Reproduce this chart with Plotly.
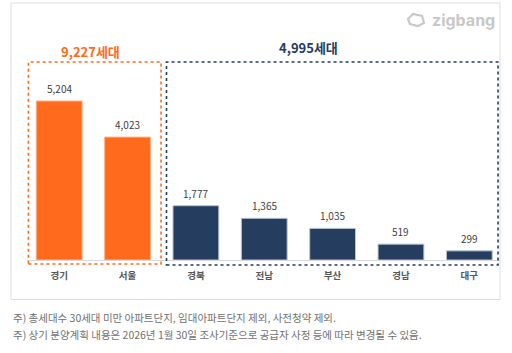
import plotly.graph_objects as go

categories = ["경기", "서울", "경북", "전남", "부산", "경남", "대구"]
values = [5204, 4023, 1777, 1365, 1035, 519, 299]
value_labels = ["5,204", "4,023", "1,777", "1,365", "1,035", "519", "299"]
bar_colors = ["#FF6A1C", "#FF6A1C", "#253D5F", "#253D5F", "#253D5F", "#253D5F", "#253D5F"]
edge_colors = ["#FFB080", "#FFB080", "#B8C4D4", "#B8C4D4", "#B8C4D4", "#B8C4D4", "#B8C4D4"]
group_titles = ["9,227세대", "4,995세대"]
footnotes = [
    "주) 총세대수 30세대 미만 아파트단지, 임대아파트단지 제외, 사전청약 제외.",
    "주) 상기 분양계획 내용은 2026년 1월 30일 조사기준으로 공급자 사정 등에 따라 변경될 수 있음.",
]

W, H = 512, 353
FONT = "Noto Sans CJK KR"
ORANGE = "#FF6A1C"
NAVY = "#253D5F"


def px(x):
    return x / W


def py(y):
    return 1 - y / H


fig = go.Figure()
fig.add_trace(go.Bar(
    x=categories, y=values, width=0.67,
    marker=dict(color=bar_colors, line=dict(color=edge_colors, width=1)),
    hoverinfo="skip",
))

# value labels
for c, v, t in zip(categories, values, value_labels):
    fig.add_annotation(x=c, y=v, text=t, showarrow=False, yanchor="bottom", yshift=3,
                       font=dict(size=10, color="#404040", family=FONT))

shapes = []
# outer panel
shapes.append(dict(type="rect", xref="paper", yref="paper", x0=px(11), x1=px(500), y0=py(299.5), y1=py(3),
                   line=dict(color="#DDDDDD", width=1), fillcolor="white", layer="below"))
# baseline
shapes.append(dict(type="line", xref="paper", yref="paper", x0=px(27), x1=px(500), y0=py(260.5), y1=py(260.5),
                   line=dict(color="#D9D9D9", width=1)))
# group boxes
shapes.append(dict(type="rect", xref="x", yref="paper", x0=-0.45, x1=1.49, y0=py(264), y1=py(62),
                   line=dict(color=ORANGE, width=1.6, dash="dot")))
shapes.append(dict(type="rect", xref="x", yref="paper", x0=1.57, x1=6.42, y0=py(265), y1=py(62),
                   line=dict(color=NAVY, width=1.6, dash="dot")))
# logo icon (tilted rounded square outline)
ix, iy = 416, 20
pts = [(-8, -1), (-3, -6), (6, -4), (8, 3), (2, 6), (-6, 4)]
path = "M " + " L ".join(f"{px(ix + dx)},{py(iy + dy)}" for dx, dy in pts) + " Z"
shapes.append(dict(type="path", xref="paper", yref="paper", path=path,
                   line=dict(color="#C8C8C8", width=2.2)))

fig.add_annotation(xref="x", yref="paper", x=0.46, y=py(51), yanchor="middle", text=f"<b>{group_titles[0]}</b>",
                   showarrow=False, font=dict(size=13, color=ORANGE, family=FONT))
fig.add_annotation(xref="x", yref="paper", x=3.65, y=py(48), yanchor="middle", text=f"<b>{group_titles[1]}</b>",
                   showarrow=False, font=dict(size=13, color=NAVY, family=FONT))

fig.add_annotation(xref="paper", yref="paper", x=px(430), y=py(20), xanchor="left", yanchor="middle",
                   text="<b>zigbang</b>", showarrow=False,
                   font=dict(size=16, color="#C8C8C8", family="Inter"))

for i, t in enumerate(footnotes):
    fig.add_annotation(xref="paper", yref="paper", x=px(11), y=py(317 + i * 17), xanchor="left", yanchor="middle",
                       text=t, showarrow=False, font=dict(size=10.5, color="#707070", family=FONT))

fig.update_layout(
    width=W, height=H, margin=dict(l=0, r=0, t=0, b=0),
    paper_bgcolor="white", plot_bgcolor="rgba(0,0,0,0)",
    showlegend=False, shapes=shapes,
    xaxis=dict(domain=[px(25), px(503.5)], range=[-0.5, 6.5], type="category",
               categoryarray=categories, showgrid=False, zeroline=False, showline=False,
               ticks="", ticklabelstandoff=8, tickfont=dict(size=9.5, color="#555555", family=FONT)),
    yaxis=dict(domain=[py(260), py(60)], range=[0, 200 / 0.03055], visible=False),
    font=dict(family=FONT),
)
fig.update_xaxes(ticktext=[f"<b>{c}</b>" for c in categories], tickvals=categories)

fig.write_html("out.html")
